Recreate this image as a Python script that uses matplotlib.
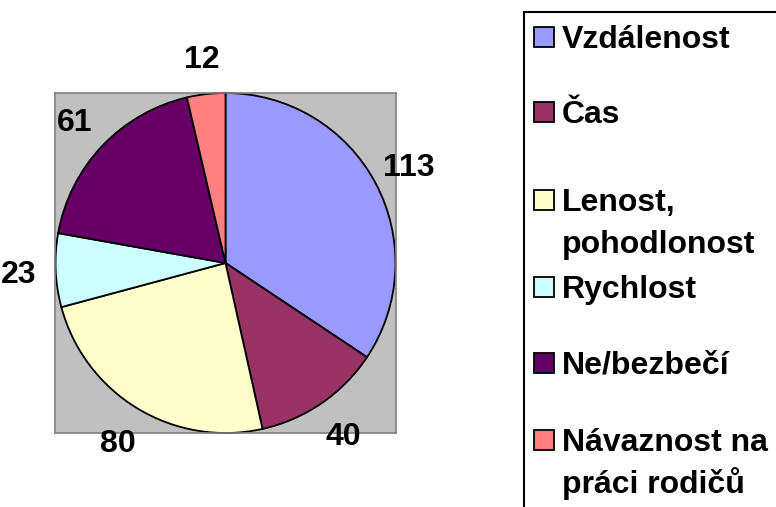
import numpy as np
import matplotlib
matplotlib.use("Agg")
import matplotlib.pyplot as plt
from matplotlib.patches import Rectangle

plt.rcParams['font.family'] = ['Liberation Sans', 'DejaVu Sans']

# data
labels = ["Vzdálenost", "Čas", "Lenost,\npohodlonost", "Rychlost",
          "Ne/bezbečí", "Návaznost na\npráci rodičů"]
values = [113, 40, 80, 23, 61, 12]
colors = ["#9999FF", "#993366", "#FFFFCC", "#CCFFFF", "#660066", "#FF8080"]

W, H = 776, 507
def fx(px): return px / W
def fy(py): return 1 - py / H

fSize = 23
fig = plt.figure(figsize=(W / 100, H / 100), dpi=100)

# plot area (grey square)
ax = fig.add_axes([fx(55), fy(433), 341 / W, 340 / H])
wedges, _ = ax.pie(values, colors=colors, startangle=90, counterclock=False,
                   radius=1, wedgeprops=dict(edgecolor="black", linewidth=1.3))
ax.set_aspect("auto")
ax.set_xlim(-1.003, 1.003)
ax.set_ylim(-1.0, 1.0)
ax.set_frame_on(True)
ax.set_facecolor("#C0C0C0")
for sp in ax.spines.values():
    sp.set_color("#808080")
    sp.set_linewidth(1.2)
ax.set_xticks([])
ax.set_yticks([])

# value labels outside the wedges
rLab = 1.22
for w, v in zip(wedges, values):
    ang = np.deg2rad((w.theta1 + w.theta2) / 2)
    ax.annotate(str(v), (rLab * np.cos(ang), rLab * np.sin(ang)),
                xytext=(0, -8), textcoords="offset points",
                ha="center", va="baseline", fontsize=fSize,
                fontweight="bold", annotation_clip=False)

# legend drawn by hand (Excel style, box runs off the figure)
fig.add_artist(Rectangle((fx(524), fy(540)), 300 / W, (540 - 12) / H,
                         transform=fig.transFigure, fill=False,
                         edgecolor="black", linewidth=1.5))
rowY = [37, 112, 200, 287, 363, 440]
lineGap = 42
sq = 20
for lab, col, y0 in zip(labels, colors, rowY):
    fig.add_artist(Rectangle((fx(534), fy(y0 + sq / 2)), sq / W, sq / H,
                             transform=fig.transFigure, facecolor=col,
                             edgecolor="black", linewidth=1.3))
    for i, line in enumerate(lab.split("\n")):
        fig.text(fx(562), fy(y0 + 11 + i * lineGap), line, ha="left",
                 va="baseline", fontsize=fSize, fontweight="bold")

fig.savefig("out.png", dpi=100)
